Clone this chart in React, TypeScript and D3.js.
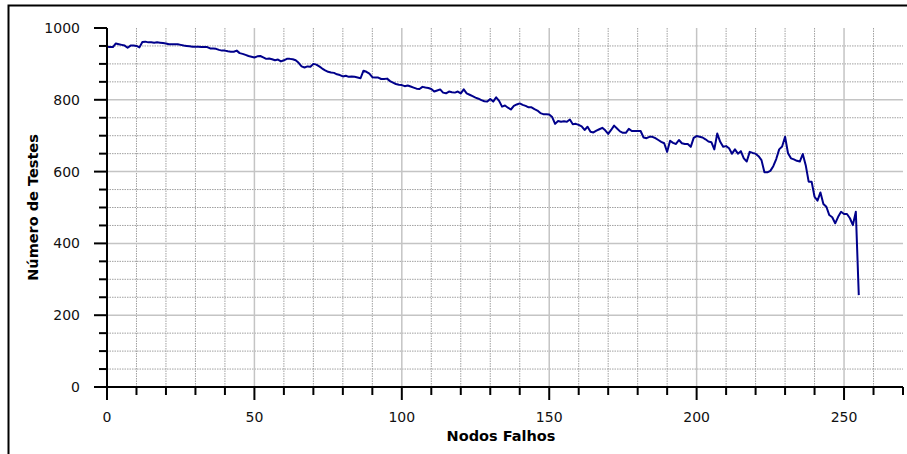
import React from 'react';
import * as d3 from 'd3';

// número de testes for each count of failed nodes (0..255)
const testes: number[] = [
  948, 947, 947, 957, 955, 953, 951, 945, 951, 951,
  950, 946, 961, 962, 960, 960, 959, 960, 959, 958,
  957, 955, 955, 955, 955, 953, 951, 950, 949, 948,
  948, 948, 947, 947, 947, 943, 943, 942, 939, 937,
  937, 935, 934, 934, 937, 930, 928, 925, 922, 920,
  918, 921, 922, 918, 914, 915, 913, 910, 912, 907,
  910, 914, 914, 913, 910, 903, 893, 890, 893, 892,
  900, 898, 893, 887, 882, 878, 876, 875, 871, 869,
  865, 867, 864, 865, 864, 862, 860, 881, 878, 873,
  863, 862, 862, 858, 858, 859, 852, 848, 844, 842,
  841, 838, 840, 837, 834, 831, 830, 836, 834, 833,
  830, 823, 826, 829, 820, 818, 823, 821, 820, 823,
  818, 829, 818, 814, 810, 806, 803, 799, 796, 795,
  802, 795, 807, 797, 781, 784, 778, 773, 783, 787,
  790, 786, 783, 779, 779, 774, 770, 763, 760, 760,
  759, 752, 733, 741, 739, 740, 739, 745, 732, 733,
  730, 726, 716, 725, 711, 709, 714, 718, 722, 715,
  705, 716, 728, 720, 712, 708, 708, 719, 713, 713,
  713, 713, 695, 693, 697, 697, 693, 688, 683, 679,
  655, 686, 680, 677, 688, 679, 677, 677, 669, 694,
  699, 697, 695, 690, 684, 682, 662, 706, 683, 669,
  671, 665, 650, 662, 650, 657, 637, 628, 655, 652,
  650, 643, 632, 598, 598, 602, 615, 635, 662, 670,
  697, 651, 637, 634, 630, 628, 649, 618, 572, 572,
  530, 519, 542, 510, 502, 479, 473, 456, 474, 488,
  482, 482, 470, 451, 488, 256,
];
const nodos: number[] = testes.map((_, i) => i);

const xMajor = [0, 50, 100, 150, 200, 250];
const yMajor = [0, 200, 400, 600, 800, 1000];

const W = 907;
const H = 454;
const margin = { left: 107, right: 4, top: 28, bottom: 67 };

export default function App() {
  const x = d3.scaleLinear().domain([0, 270]).range([margin.left, W - margin.right]);
  const y = d3.scaleLinear().domain([0, 1000]).range([H - margin.bottom, margin.top]);

  const xMinor = d3.range(0, 271, 10);
  const yMinor = d3.range(0, 1001, 50);

  const line = d3.line<number>()
    .x((_, i) => x(nodos[i]))
    .y(d => y(d));

  const font = '"DejaVu Sans", sans-serif';
  const x0 = x(0);
  const y0 = y(0);

  return (
    <svg width={W} height={H} style={{ position: 'absolute', left: 0, top: 0 }}>
      <rect x={0} y={0} width={W} height={H} fill="#fff" />
      {/* outer frame */}
      <rect x={8.5} y={5.5} width={W + 20} height={H + 20} fill="none" stroke="#000" strokeWidth={2} />

      {/* minor grid */}
      {xMinor.filter(v => v > 0 && v < 270 && v % 50 !== 0).map(v => (
        <line key={'gx' + v} x1={x(v)} x2={x(v)} y1={y(0)} y2={y(1000)}
          stroke="#a0a0a0" strokeWidth={1} strokeDasharray="1.5,1" />
      ))}
      {yMinor.filter(v => v > 0 && v < 1000 && v % 200 !== 0).map(v => (
        <line key={'gy' + v} x1={x(0)} x2={x(270)} y1={y(v)} y2={y(v)}
          stroke="#a0a0a0" strokeWidth={1} strokeDasharray="1.5,1" />
      ))}
      {/* major grid */}
      {xMajor.filter(v => v > 0).map(v => (
        <line key={'Gx' + v} x1={x(v)} x2={x(v)} y1={y(0)} y2={y(1000)}
          stroke="#c4c4c4" strokeWidth={1.5} />
      ))}
      {yMajor.filter(v => v > 0 && v < 1000).map(v => (
        <line key={'Gy' + v} x1={x(0)} x2={x(270)} y1={y(v)} y2={y(v)}
          stroke="#c4c4c4" strokeWidth={1.5} />
      ))}

      {/* data */}
      <path d={line(testes) ?? ''} fill="none" stroke="#00008b" strokeWidth={2} strokeLinejoin="round" />

      {/* axes */}
      <line x1={x0} x2={x0} y1={y(1000)} y2={y0} stroke="#000" strokeWidth={2} />
      <line x1={x0} x2={x(270)} y1={y0} y2={y0} stroke="#000" strokeWidth={2} />
      {xMinor.map(v => (
        <line key={'tx' + v} x1={x(v)} x2={x(v)} y1={y0}
          y2={y0 + (v % 50 === 0 ? 13 : 8)} stroke="#000" strokeWidth={2} />
      ))}
      {yMinor.map(v => (
        <line key={'ty' + v} x1={x0 - (v % 200 === 0 ? 13 : 8)} x2={x0} y1={y(v)} y2={y(v)}
          stroke="#000" strokeWidth={2} />
      ))}

      {/* tick labels */}
      {xMajor.map(v => (
        <text key={'lx' + v} x={x(v)} y={422} textAnchor="middle"
          fontFamily={font} fontSize={14} fill="#111">{v}</text>
      ))}
      {yMajor.map(v => (
        <text key={'ly' + v} x={80} y={y(v) + 5} textAnchor="end"
          fontFamily={font} fontSize={14} fill="#111">{v}</text>
      ))}

      {/* axis titles */}
      <text x={501} y={441} textAnchor="middle" fontFamily={font} fontSize={14.5}
        fontWeight="bold" fill="#000">Nodos Falhos</text>
      <text transform={`translate(38,${(y(0) + y(1000)) / 2}) rotate(-90)`} textAnchor="middle"
        fontFamily={font} fontSize={14.5} fontWeight="bold" fill="#000">Número de Testes</text>
    </svg>
  );
}
